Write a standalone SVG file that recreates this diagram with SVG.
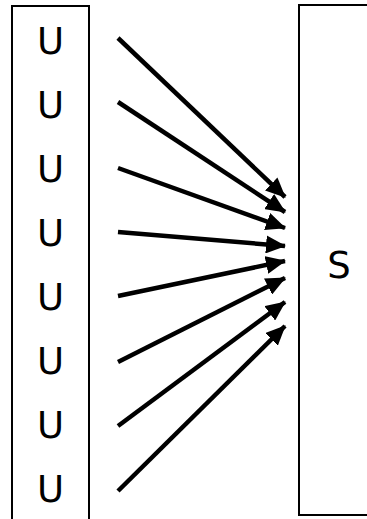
<svg xmlns="http://www.w3.org/2000/svg" width="367" height="519" viewBox="0 0 367 519">
<style>
.box{fill:#fff;stroke:#000;stroke-width:2}
.lbl{font-family:"DejaVu Sans",sans-serif;font-size:37px;fill:#000;text-anchor:middle}
.edge{stroke:#000;stroke-width:4.5;fill:none;marker-end:url(#ah)}
</style>
<defs>
<marker id="ah" markerUnits="userSpaceOnUse" markerWidth="20" markerHeight="18" refX="19" refY="9" orient="auto">
<path d="M0,0 L20,9 L0,18 Z" fill="#000"/>
</marker>
</defs>
<rect width="367" height="519" fill="#fff"/>
<g id="U">
<rect class="box" x="12" y="6" width="77" height="520"/>
<text class="lbl" x="50.5" y="54">U</text>
<text class="lbl" x="50.5" y="118">U</text>
<text class="lbl" x="50.5" y="182">U</text>
<text class="lbl" x="50.5" y="246">U</text>
<text class="lbl" x="50.5" y="310">U</text>
<text class="lbl" x="50.5" y="374">U</text>
<text class="lbl" x="50.5" y="438">U</text>
<text class="lbl" x="50.5" y="502">U</text>
</g>
<g id="S">
<rect class="box" x="299" y="5" width="80" height="510"/>
<text class="lbl" x="339" y="278">S</text>
</g>
<g id="connectors">
<line class="edge" x1="118" y1="38" x2="285" y2="197"/>
<line class="edge" x1="118" y1="102" x2="285" y2="212"/>
<line class="edge" x1="118" y1="168" x2="285" y2="228"/>
<line class="edge" x1="118" y1="232" x2="285" y2="246"/>
<line class="edge" x1="118" y1="296" x2="285" y2="261"/>
<line class="edge" x1="118" y1="362" x2="285" y2="278"/>
<line class="edge" x1="118" y1="426" x2="285" y2="302"/>
<line class="edge" x1="118" y1="491" x2="285" y2="326"/>
</g>
</svg>
